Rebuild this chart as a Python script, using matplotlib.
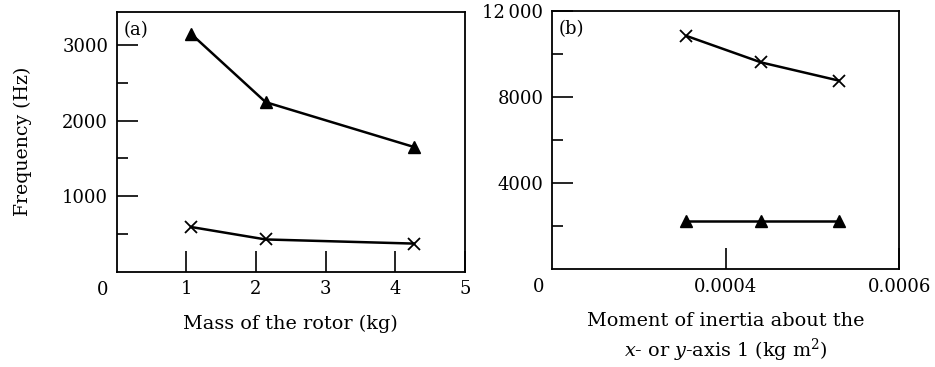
import matplotlib
matplotlib.use("Agg")
import matplotlib.pyplot as plt

plt.rcParams['font.family'] = ['DejaVu Serif']
plt.rcParams['mathtext.fontset'] = 'dejavuserif'
plt.rcParams['font.size'] = 13

# (a) frequency against rotor mass
mass = [1.07, 2.14, 4.27]
freq_a_tri = [3150, 2245, 1650]
freq_a_cross = [590, 425, 370]

# (b) frequency against moment of inertia about x or y axis
inertia = [0.000355, 0.000441, 0.00053]
freq_b_cross = [10830, 9600, 8760]
freq_b_tri = [2260, 2260, 2260]

fig = plt.figure(figsize=(9.35, 3.67), dpi=100)
ax1 = fig.add_axes([0.1246, 0.2602, 0.3727, 0.7071])
ax2 = fig.add_axes([0.5901, 0.2662, 0.3718, 0.7046])

line_kw = dict(color='black', linewidth=1.8)
tri_kw = dict(marker='^', markersize=9, markerfacecolor='black', markeredgecolor='black')
cross_kw = dict(marker='x', markersize=8, markeredgewidth=1.3, markeredgecolor='black')


def style(ax):
    for s in ax.spines.values():
        s.set_linewidth(1.3)
    ax.tick_params(which='major', direction='in', length=15, width=1.2, pad=6)
    ax.tick_params(which='minor', direction='in', length=8, width=1.2)
    # shared origin label at the lower left corner
    ax.annotate('0', xy=(0, 0), xycoords='axes fraction', xytext=(-13.5, -9),
                textcoords='offset pixels', ha='center', va='top')


ax1.plot(mass, freq_a_tri, **line_kw, **tri_kw)
ax1.plot(mass, freq_a_cross, **line_kw, **cross_kw)
ax1.set_xlim(0, 5)
ax1.set_ylim(0, 3440)
ax1.set_xticks([1, 2, 3, 4, 5])
ax1.set_yticks([1000, 2000, 3000])
ax1.set_yticks([500, 1500, 2500], minor=True)
ax1.set_ylabel('Frequency (Hz)', labelpad=22, fontsize=13.6)
ax1.set_xlabel('Mass of the rotor (kg)', labelpad=12, fontsize=13.9)
ax1.text(0.02, 0.965, '(a)', transform=ax1.transAxes, ha='left', va='top')
style(ax1)

ax2.plot(inertia, freq_b_cross, **line_kw, **cross_kw)
ax2.plot(inertia, freq_b_tri, **line_kw, **tri_kw)
ax2.set_xlim(0.0002, 0.0006)
ax2.set_ylim(0, 12000)
ax2.set_xticks([0.0004, 0.0006])
ax2.set_xticklabels(['0.0004', '0.0006'])
ax2.set_yticks([4000, 8000, 12000])
ax2.set_yticklabels(['4000', '8000', '12\u2009000'])
ax2.set_yticks([2000, 6000, 10000], minor=True)
ax2.set_xlabel('Moment of inertia about the\n$x$- or $y$-axis 1 (kg m$^2$)',
               labelpad=12, linespacing=1.3, fontsize=13.9)
ax2.text(0.02, 0.965, '(b)', transform=ax2.transAxes, ha='left', va='top')
style(ax2)

fig.savefig('out.png', dpi=100)
